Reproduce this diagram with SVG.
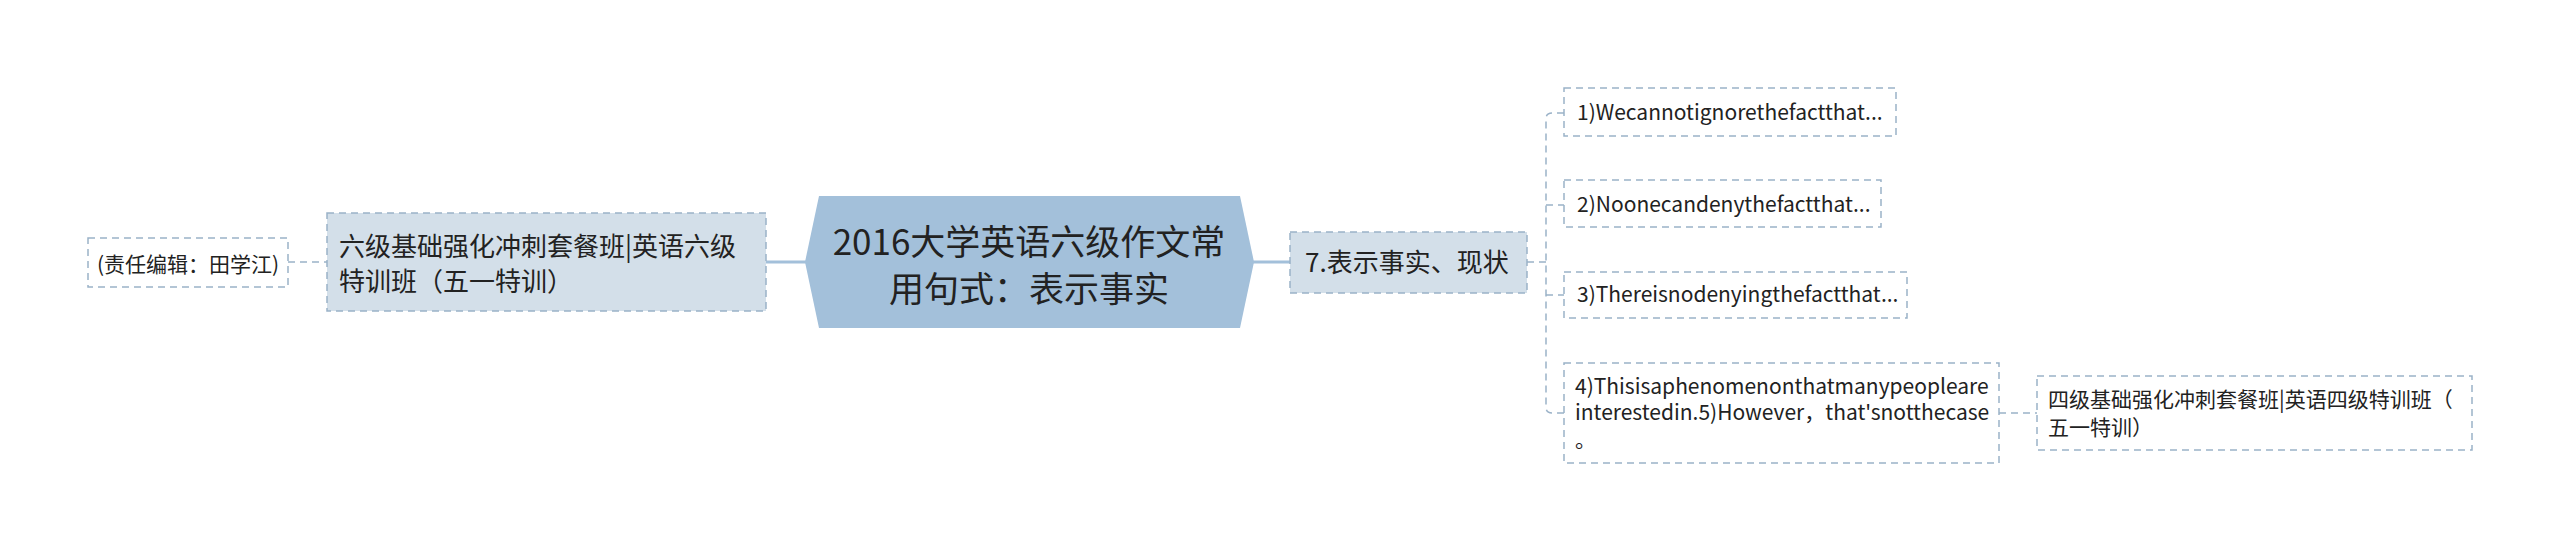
<svg xmlns="http://www.w3.org/2000/svg" width="2560" height="552" viewBox="0 0 2560 552">
<style>
text{font-family:"Noto Sans CJK SC","Noto Sans",sans-serif;fill:#222;}
.root{fill:#a3c0da;}
.l1{fill:#d3dfe9;stroke:#9ab2c8;stroke-width:1.5;stroke-dasharray:7 5;}
.l2{fill:#ffffff;stroke:#9ab2c8;stroke-width:1.5;stroke-dasharray:7 5;}
.solid{fill:none;stroke:#a3c0da;stroke-width:3;}
.dash{fill:none;stroke:#9ab2c8;stroke-width:1.5;stroke-dasharray:7 5;}
.t35{font-size:35px;}
.t26{font-size:26px;}
.t21{font-size:21px;}
</style>
<rect width="2560" height="552" fill="#ffffff"/>
<g id="connectors">
<line class="solid" x1="766" y1="262" x2="806" y2="262"/>
<line class="solid" x1="1253" y1="262" x2="1290" y2="262"/>
<line class="dash" x1="288" y1="262" x2="327" y2="262"/>
<line class="dash" x1="1527" y1="262" x2="1546" y2="262"/>
<path class="dash" d="M1564 113 H1552 Q1546 113 1546 119 V407 Q1546 413 1552 413 H1564"/>
<line class="dash" x1="1546" y1="205" x2="1564" y2="205"/>
<line class="dash" x1="1546" y1="295" x2="1564" y2="295"/>
<line class="dash" x1="1999" y1="413" x2="2037" y2="413"/>
</g>
<g id="root">
<polygon class="root" points="805,262 819,196 1240,196 1254,262 1240,328 819,328"/>
<text class="t35" x="1029" y="255" text-anchor="middle">2016大学英语六级作文常</text>
<text class="t35" x="1029" y="302" text-anchor="middle">用句式：表示事实</text>
</g>
<g id="left-node">
<rect class="l1" x="327" y="213" width="439" height="98"/>
<text class="t26" x="339" y="256">六级基础强化冲刺套餐班|英语六级</text>
<text class="t26" x="339" y="291">特训班（五一特训）</text>
</g>
<g id="editor">
<rect class="l2" x="88" y="238" width="200" height="49"/>
<text class="t21" x="188" y="272" text-anchor="middle">(责任编辑：田学江)</text>
</g>
<g id="node7">
<rect class="l1" x="1290" y="232" width="237" height="61"/>
<text class="t26" x="1305" y="272">7.表示事实、现状</text>
</g>
<g id="node1">
<rect class="l2" x="1564" y="88" width="332" height="48"/>
<text class="t21" x="1577" y="120">1)Wecannotignorethefactthat...</text>
</g>
<g id="node2">
<rect class="l2" x="1564" y="180" width="317" height="47"/>
<text class="t21" x="1577" y="212">2)Noonecandenythefactthat...</text>
</g>
<g id="node3">
<rect class="l2" x="1564" y="272" width="343" height="46"/>
<text class="t21" x="1577" y="302">3)Thereisnodenyingthefactthat...</text>
</g>
<g id="node4">
<rect class="l2" x="1564" y="363" width="435" height="100"/>
<text class="t21" x="1575" y="394">4)Thisisaphenomenonthatmanypeopleare</text>
<text class="t21" x="1575" y="420">interestedin.5)However，that'snotthecase</text>
<text class="t21" x="1575" y="447">。</text>
</g>
<g id="node-cet4">
<rect class="l2" x="2037" y="376" width="435" height="74"/>
<text class="t21" x="2048" y="407">四级基础强化冲刺套餐班|英语四级特训班（</text>
<text class="t21" x="2048" y="435">五一特训）</text>
</g>
</svg>
